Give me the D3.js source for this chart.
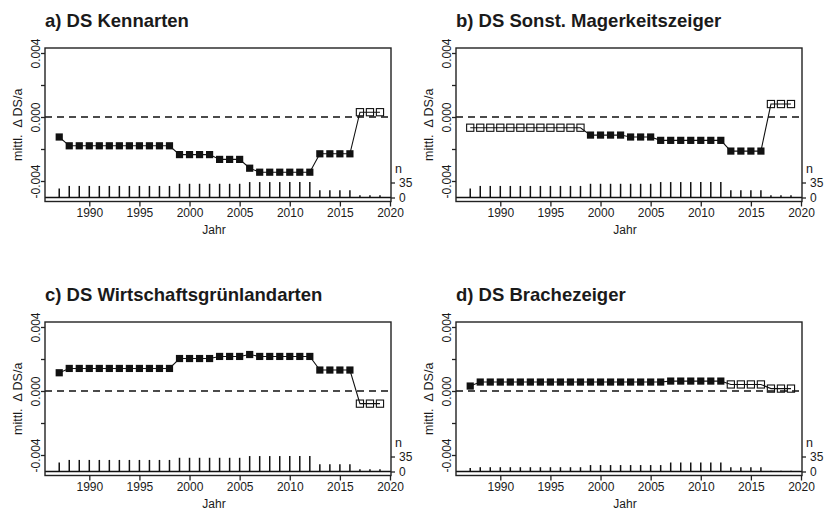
<!DOCTYPE html>
<html>
<head>
<meta charset="utf-8">
<script src="https://cdn.jsdelivr.net/npm/d3@7/dist/d3.min.js"></script>
<style>
  body { margin: 0; background: #fff; }
  text { font-family: "Liberation Sans", Arial, sans-serif; fill: #1a1a1a; }
</style>
</head>
<body>
<svg id="chart" width="828" height="511"></svg>
<script>
// years of the survey
var years = [1987, 1988, 1989, 1990, 1991, 1992, 1993, 1994, 1995, 1996, 1997,
    1998, 1999, 2000, 2001, 2002, 2003, 2004, 2005, 2006, 2007, 2008, 2009,
    2010, 2011, 2012, 2013, 2014, 2015, 2016, 2017, 2018, 2019];

// mean change of the indicator per year
var valKennarten = [-0.00125, -0.0018, -0.0018, -0.0018, -0.0018, -0.0018, -0.0018,
    -0.0018, -0.0018, -0.0018, -0.0018, -0.0018, -0.00235, -0.00235, -0.00235,
    -0.00235, -0.00265, -0.00265, -0.00265, -0.0032, -0.00345, -0.00345, -0.00345,
    -0.00345, -0.00345, -0.00345, -0.0023, -0.0023, -0.0023, -0.0023, 0.0003,
    0.0003, 0.0003];
var valMagerkeit = [-0.00067, -0.00067, -0.00067, -0.00067, -0.00067, -0.00067,
    -0.00067, -0.00067, -0.00067, -0.00067, -0.00067, -0.00067, -0.00113, -0.00113,
    -0.00113, -0.00113, -0.00125, -0.00125, -0.00125, -0.00146, -0.00146, -0.00146,
    -0.00146, -0.00146, -0.00146, -0.00146, -0.00213, -0.00213, -0.00213, -0.00213,
    0.00081, 0.00081, 0.00081];
var valGruenland = [0.00114, 0.00141, 0.00141, 0.00141, 0.00141, 0.00141, 0.00141,
    0.00141, 0.00141, 0.00141, 0.00141, 0.00141, 0.00203, 0.00203, 0.00203, 0.00203,
    0.00216, 0.00216, 0.00216, 0.00228, 0.00216, 0.00216, 0.00216, 0.00216, 0.00216,
    0.00216, 0.00131, 0.00131, 0.00131, 0.00131, -0.00079, -0.00079, -0.00079];
var valBrache = [0.00031, 0.00056, 0.00056, 0.00056, 0.00056, 0.00056, 0.00056,
    0.00056, 0.00056, 0.00056, 0.00056, 0.00056, 0.00056, 0.00056, 0.00056, 0.00056,
    0.00056, 0.00056, 0.00056, 0.00056, 0.00062, 0.00062, 0.00062, 0.00062, 0.00062,
    0.00062, 0.00041, 0.00041, 0.00041, 0.00041, 0.00015, 0.00015, 0.00015];

// 1 = filled square, 0 = open square
var sigKennarten = [1, 1, 1, 1, 1, 1, 1, 1, 1, 1, 1, 1, 1, 1, 1, 1, 1, 1, 1, 1, 1,
    1, 1, 1, 1, 1, 1, 1, 1, 1, 0, 0, 0];
var sigMagerkeit = [0, 0, 0, 0, 0, 0, 0, 0, 0, 0, 0, 0, 1, 1, 1, 1, 1, 1, 1, 1, 1,
    1, 1, 1, 1, 1, 1, 1, 1, 1, 0, 0, 0];
var sigGruenland = [1, 1, 1, 1, 1, 1, 1, 1, 1, 1, 1, 1, 1, 1, 1, 1, 1, 1, 1, 1, 1,
    1, 1, 1, 1, 1, 1, 1, 1, 1, 0, 0, 0];
var sigBrache = [1, 1, 1, 1, 1, 1, 1, 1, 1, 1, 1, 1, 1, 1, 1, 1, 1, 1, 1, 1, 1,
    1, 1, 1, 1, 1, 0, 0, 0, 0, 0, 0, 0];

// number of plots (n) per year
var nPlots = [21, 27, 27, 27, 27, 27, 27, 27, 27, 27, 27, 27, 32, 32, 32, 32, 32,
    32, 32, 36, 36, 36, 36, 36, 36, 36, 17, 17, 17, 17, 5, 5, 5];
var nBrache = [8, 10, 10, 10, 10, 10, 10, 10, 10, 10, 10, 10, 15, 15, 15, 15, 15,
    15, 15, 15, 21, 21, 21, 21, 21, 21, 10, 10, 10, 10, 2, 2, 2];

var xTicks = [1990, 1995, 2000, 2005, 2010, 2015, 2020];
var yTicks = [-0.004, -0.002, 0, 0.002, 0.004];
var yLabelled = [-0.004, 0, 0.004];
var nTicks = [0, 35];

var panels = [
    {title: 'a) DS Kennarten', values: valKennarten, sig: sigKennarten, n: nPlots, dx: 0, dy: 0},
    {title: 'b) DS Sonst. Magerkeitszeiger', values: valMagerkeit, sig: sigMagerkeit, n: nPlots, dx: 411, dy: 0},
    {title: 'c) DS Wirtschaftsgrünlandarten', values: valGruenland, sig: sigGruenland, n: nPlots, dx: 0, dy: 274},
    {title: 'd) DS Brachezeiger', values: valBrache, sig: sigBrache, n: nBrache, dx: 411, dy: 274}
];

var svg = d3.select('#chart');
var ink = '#111';

// plot box within one panel
var box = {left: 45, right: 391, top: 48, bottom: 201.5};
var x = d3.scaleLinear().domain([1990, 2020]).range([89.3, 390]);
var y = d3.scaleLinear().domain([-0.004, 0.004]).range([181, 53]);
var yN = d3.scaleLinear().domain([0, 35]).range([197.5, 182.5]);

panels.forEach(function (p) {
    var g = svg.append('g').attr('transform', 'translate(' + p.dx + ',' + p.dy + ')');
    var pts = years.map(function (yr, i) {
        return {year: yr, v: p.values[i], sig: p.sig[i], n: p.n[i]};
    });

    g.append('text')
        .attr('x', box.left)
        .attr('y', 26.5)
        .style('font-size', '18.5px')
        .style('font-weight', 'bold')
        .text(p.title);

    // zero line
    g.append('line')
        .attr('x1', box.left).attr('x2', box.right)
        .attr('y1', y(0)).attr('y2', y(0))
        .attr('stroke', ink).attr('stroke-width', 1.3)
        .attr('stroke-dasharray', '7,5');

    // n baseline
    g.append('line')
        .attr('x1', box.left).attr('x2', box.right)
        .attr('y1', yN(0)).attr('y2', yN(0))
        .attr('stroke', ink).attr('stroke-width', 1.3);

    // n bars
    g.selectAll('.nbar').data(pts).enter().append('line')
        .attr('class', 'nbar')
        .attr('x1', function (d) { return x(d.year); })
        .attr('x2', function (d) { return x(d.year); })
        .attr('y1', yN(0))
        .attr('y2', function (d) { return yN(d.n); })
        .attr('stroke', ink).attr('stroke-width', 1.5);

    var line = d3.line()
        .x(function (d) { return x(d.year); })
        .y(function (d) { return y(d.v); });
    g.append('path')
        .datum(pts)
        .attr('d', line)
        .attr('fill', 'none')
        .attr('stroke', ink)
        .attr('stroke-width', 1.1);

    g.selectAll('.pt').data(pts).enter().append('rect')
        .attr('class', 'pt')
        .attr('x', function (d) { return x(d.year) - 3.6; })
        .attr('y', function (d) { return y(d.v) - 3.6; })
        .attr('width', 7.2).attr('height', 7.2)
        .attr('fill', function (d) { return d.sig ? ink : 'none'; })
        .attr('stroke', ink)
        .attr('stroke-width', function (d) { return d.sig ? 0 : 1.1; });

    // box
    g.append('rect')
        .attr('x', box.left).attr('y', box.top)
        .attr('width', box.right - box.left).attr('height', box.bottom - box.top)
        .attr('fill', 'none').attr('stroke', '#222').attr('stroke-width', 1.4);

    // x axis
    var xAxis = g.append('g')
        .attr('transform', 'translate(0,' + box.bottom + ')')
        .call(d3.axisBottom(x).tickValues(xTicks).tickSize(5).tickFormat(d3.format('d')));
    xAxis.select('.domain').remove();
    xAxis.selectAll('line').attr('stroke', '#222').attr('stroke-width', 1.3);
    xAxis.selectAll('text')
        .attr('y', 15.5).attr('dy', 0)
        .style('font-size', '12px')
        .style('font-family', '"Liberation Sans", Arial, sans-serif')
        .attr('fill', '#1a1a1a');

    g.append('text')
        .attr('x', 214).attr('y', 234)
        .attr('text-anchor', 'middle')
        .style('font-size', '12px')
        .text('Jahr');

    // left axis
    var yAxis = g.append('g')
        .attr('transform', 'translate(' + box.left + ',0)')
        .call(d3.axisLeft(y).tickValues(yTicks).tickSize(4)
            .tickFormat(function (d) { return yLabelled.indexOf(d) >= 0 ? d3.format('.3f')(d).replace('−', '-') : ''; }));
    yAxis.select('.domain').remove();
    yAxis.selectAll('line').attr('stroke', '#222').attr('stroke-width', 1.3);
    yAxis.selectAll('text')
        .attr('x', 0).attr('dy', 0)
        .attr('transform', 'translate(-5,0) rotate(-90)')
        .attr('text-anchor', 'middle')
        .style('font-size', '12px')
        .style('font-family', '"Liberation Sans", Arial, sans-serif')
        .attr('fill', '#1a1a1a');

    g.append('text')
        .attr('transform', 'translate(21.5,' + ((box.top + box.bottom) / 2) + ') rotate(-90)')
        .attr('text-anchor', 'middle')
        .style('font-size', '12.5px')
        .text('mittl.\u00a0\u00a0\u0394 DS/a');

    // right axis for n
    var nAxis = g.append('g')
        .attr('transform', 'translate(' + box.right + ',0)')
        .call(d3.axisRight(yN).tickValues(nTicks).tickSize(4).tickPadding(4));
    nAxis.select('.domain').remove();
    nAxis.selectAll('line').attr('stroke', '#222').attr('stroke-width', 1.3);
    nAxis.selectAll('text')
        .style('font-size', '12px')
        .style('font-family', '"Liberation Sans", Arial, sans-serif')
        .attr('fill', '#1a1a1a');

    g.append('text')
        .attr('x', box.right + 4).attr('y', 173)
        .style('font-size', '12.5px')
        .text('n');
});
</script>
</body>
</html>
